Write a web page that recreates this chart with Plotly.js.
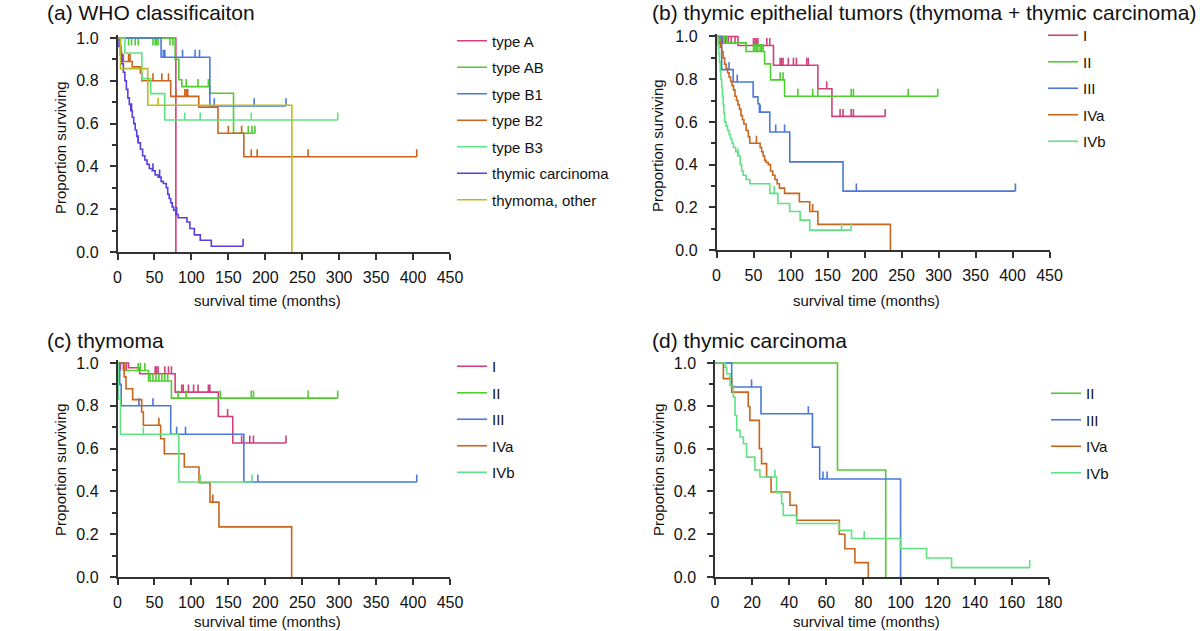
<!DOCTYPE html>
<html><head><meta charset="utf-8">
<script src="https://cdn.plot.ly/plotly-3.0.1.min.js"></script>
<style>html,body{margin:0;padding:0;background:#fff}#chart{width:1200px;height:631px}</style>
</head><body><div id="chart"></div>
<script>
// ---------- DATA ----------
// Panel (a) WHO classification: step times (t), survival after step (s), censor times (c), last follow-up (end)
const a_A_t = [0, 79];
const a_A_s = [1, 0];
const a_A_c = [];
const a_A_end = 79;

const a_AB_t = [0, 78, 83, 87, 125, 157];
const a_AB_s = [1, 0.9, 0.805, 0.773, 0.742, 0.555];
const a_AB_c = [15, 19, 24, 28, 48, 51, 53, 55, 71, 75, 93, 109, 123, 177, 182, 186];
const a_AB_end = 186;

const a_B1_t = [0, 59, 125];
const a_B1_s = [1, 0.91, 0.683];
const a_B1_c = [62, 64, 88, 105, 111, 131, 185, 228];
const a_B1_end = 228;

const a_B2_t = [0, 4, 5, 6, 20, 31, 33, 72, 110, 136, 171];
const a_B2_s = [1, 0.96, 0.93, 0.89, 0.865, 0.835, 0.8, 0.727, 0.677, 0.555, 0.445];
const a_B2_c = [8, 15, 17, 48, 60, 69, 79, 91, 93, 95, 150, 168, 181, 189, 258, 405];
const a_B2_end = 405;

const a_B3_t = [0, 10, 33, 45, 64];
const a_B3_s = [1, 0.93, 0.81, 0.74, 0.617];
const a_B3_c = [91, 112, 181, 298];
const a_B3_end = 298;

const a_TC_t = [0, 2, 4, 6, 8, 10, 12, 14, 16, 18, 20, 22, 24, 26, 28, 31, 34, 37, 40, 43, 47, 51, 55, 59, 62, 66, 68, 70, 72, 74, 76, 79, 82, 94, 98, 104, 112, 127];
const a_TC_s = [1, 0.96, 0.92, 0.88, 0.84, 0.80, 0.76, 0.72, 0.69, 0.66, 0.63, 0.60, 0.57, 0.54, 0.51, 0.48, 0.45, 0.43, 0.41, 0.39, 0.38, 0.36, 0.35, 0.33, 0.32, 0.30, 0.27, 0.25, 0.23, 0.21, 0.195, 0.175, 0.16, 0.14, 0.11, 0.08, 0.055, 0.027];
const a_TC_c = [19, 28, 48, 57, 80, 170];
const a_TC_end = 170;

const a_OT_t = [0, 4, 41, 236];
const a_OT_s = [1, 0.857, 0.686, 0];
const a_OT_c = [55];
const a_OT_end = 236;

// Panel (b) thymic epithelial tumors by stage
const b_I_t = [0, 29, 77, 137, 156];
const b_I_s = [1, 0.958, 0.865, 0.755, 0.626];
const b_I_c = [5, 8, 12, 16, 20, 25, 50, 52, 54, 56, 68, 72, 86, 88, 90, 97, 104, 108, 122, 124, 149, 167, 171, 182, 185, 228];
const b_I_end = 228;

const b_II_t = [0, 14, 40, 65, 73, 92];
const b_II_s = [1, 0.97, 0.93, 0.872, 0.797, 0.72];
const b_II_c = [6, 10, 50, 52, 54, 56, 59, 61, 63, 86, 90, 110, 130, 137, 182, 185, 259, 299];
const b_II_end = 299;

const b_III_t = [0, 7, 22.5, 49.5, 56, 58, 72, 99, 171];
const b_III_s = [1, 0.845, 0.787, 0.717, 0.685, 0.646, 0.553, 0.413, 0.276];
const b_III_c = [17, 28, 59, 80, 92, 189, 404];
const b_III_end = 404;

const b_IVa_t = [0, 3, 5, 7, 9, 11, 13, 15, 17, 19, 21, 23, 25, 27, 29, 31, 33, 35, 37, 40, 43, 45, 59, 61, 63, 65, 67, 70, 73, 76, 79, 82, 85, 92, 112, 126, 137, 235];
const b_IVa_s = [1, 0.97, 0.95, 0.93, 0.9, 0.87, 0.85, 0.83, 0.81, 0.79, 0.77, 0.75, 0.72, 0.70, 0.68, 0.66, 0.63, 0.61, 0.59, 0.56, 0.53, 0.50, 0.48, 0.46, 0.44, 0.42, 0.41, 0.40, 0.37, 0.35, 0.33, 0.31, 0.29, 0.265, 0.226, 0.18, 0.12, 0];
const b_IVa_c = [54, 130];
const b_IVa_end = 235;

const b_IVb_t = [0, 2, 3, 4, 5, 6, 7, 8, 9, 10, 11, 13, 15, 17, 19, 21, 23, 26, 29, 32, 34, 36, 40, 45, 72, 83, 99, 113, 126];
const b_IVb_s = [1, 0.96, 0.92, 0.88, 0.84, 0.80, 0.76, 0.72, 0.68, 0.64, 0.60, 0.58, 0.56, 0.54, 0.52, 0.50, 0.48, 0.46, 0.44, 0.40, 0.37, 0.35, 0.33, 0.31, 0.265, 0.218, 0.18, 0.14, 0.093];
const b_IVb_c = [29, 78, 169, 182];
const b_IVb_end = 182;

// Panel (c) thymoma by stage
const c_I_t = [0, 15, 30, 78, 136.5, 156];
const c_I_s = [1, 0.978, 0.95, 0.864, 0.75, 0.626];
const c_I_c = [4, 8, 12, 51, 53, 55, 64, 69, 73, 87, 89, 96, 103, 109, 123, 125, 149, 168, 179, 184, 228];
const c_I_end = 228;

const c_II_t = [0, 10, 42, 73];
const c_II_s = [1, 0.965, 0.916, 0.836];
const c_II_c = [28, 31, 37, 44, 48, 52, 56, 60, 64, 68, 82, 93, 139, 181, 184, 258, 298];
const c_II_end = 298;

const c_III_t = [0, 3, 5, 72, 171];
const c_III_s = [1, 0.9, 0.8, 0.667, 0.444];
const c_III_c = [29, 48, 80, 92, 190, 405];
const c_III_end = 405;

const c_IVa_t = [0, 9, 11.5, 20.5, 32.7, 35, 58.4, 63.4, 90.4, 110.3, 125.2, 137.3, 235.7];
const c_IVa_s = [1, 0.935, 0.88, 0.829, 0.771, 0.709, 0.646, 0.576, 0.514, 0.441, 0.35, 0.234, 0];
const c_IVa_c = [56, 129];
const c_IVa_end = 235.7;

const c_IVb_t = [0, 1, 4, 83];
const c_IVb_s = [1, 0.833, 0.667, 0.444];
const c_IVb_c = [35, 112, 182];
const c_IVb_end = 182;

// Panel (d) thymic carcinoma by stage
const d_II_t = [0, 66, 92];
const d_II_s = [1, 0.5, 0];
const d_II_c = [];
const d_II_end = 92;

const d_III_t = [0, 9, 24.8, 52.5, 56.4, 100];
const d_III_s = [1, 0.888, 0.763, 0.607, 0.458, 0];
const d_III_c = [19.7, 50.3, 58.2, 60.4];
const d_III_end = 100;

const d_IVa_t = [0, 4.5, 9, 17.9, 18.8, 23.9, 25.1, 27.8, 30.2, 40.4, 44, 67, 70, 75.4, 82.6];
const d_IVa_s = [1, 0.927, 0.864, 0.797, 0.732, 0.6, 0.53, 0.467, 0.397, 0.335, 0.265, 0.2, 0.132, 0.067, 0];
const d_IVa_c = [];
const d_IVa_end = 82.6;

const d_IVb_t = [0, 5.4, 6.3, 8.1, 9.9, 10.8, 11.7, 13.5, 15.3, 17, 21.5, 24.2, 33.2, 35.9, 36.8, 44, 67, 73.6, 100, 114, 127.5];
const d_IVb_s = [1, 0.98, 0.95, 0.895, 0.84, 0.755, 0.685, 0.654, 0.623, 0.56, 0.5, 0.467, 0.394, 0.343, 0.288, 0.25, 0.218, 0.18, 0.133, 0.089, 0.044];
const d_IVb_c = [32.3, 80.4, 169.6];
const d_IVb_end = 169.6;

// Labels
const panelTitles = ['(a) WHO classificaiton', '(b) thymic epithelial tumors (thymoma + thymic carcinoma)', '(c) thymoma', '(d) thymic carcinoma'];
const xTitle = 'survival time (months)';
const yTitle = 'Proportion surviving';
const namesA = ['type A', 'type AB', 'type B1', 'type B2', 'type B3', 'thymic carcinoma', 'thymoma, other'];
const namesStage = ['I', 'II', 'III', 'IVa', 'IVb'];
const namesD = ['II', 'III', 'IVa', 'IVb'];

// ---------- STYLE ----------
const FONT = 'Liberation Sans, Arial, Helvetica, sans-serif';
const C = {A:'#d0407c', AB:'#4fcc2e', B1:'#4a78dc', B2:'#c8651e', B3:'#5fe383', TC:'#5a3ce0', OT:'#bcbc1e'};
const W = 1200, H = 631;
const px = v => v / W;
const py = v => 1 - v / H;

const traces = [];
function addKM(t, s, c, end, name, color, ax, legendId, group) {
  const x = t.slice(), y = s.slice();
  if (end > t[t.length - 1]) { x.push(end); y.push(s[s.length - 1]); }
  traces.push({type:'scatter', mode:'lines', x:x, y:y, name:name,
    line:{shape:'hv', color:color, width:1.6}, xaxis:'x'+ax, yaxis:'y'+ax,
    legend:legendId, legendgroup:group, hoverinfo:'x+y+name'});
  const cx = [], cy = [];
  c.forEach(ct => {
    let sv = s[0];
    for (let i = 0; i < t.length; i++) if (t[i] <= ct) sv = s[i];
    const top = sv >= 0.995 ? sv - 0.035 : sv + 0.035;
    cx.push(ct, ct, null); cy.push(sv, top, null);
  });
  if (cx.length) traces.push({type:'scatter', mode:'lines', x:cx, y:cy, showlegend:false,
    line:{color:color, width:1.6}, xaxis:'x'+ax, yaxis:'y'+ax, legend:legendId, legendgroup:group, hoverinfo:'skip'});
}

// Panel a
addKM(a_A_t, a_A_s, a_A_c, a_A_end, namesA[0], C.A, '', 'legend', 'a0');
addKM(a_AB_t, a_AB_s, a_AB_c, a_AB_end, namesA[1], C.AB, '', 'legend', 'a1');
addKM(a_B1_t, a_B1_s, a_B1_c, a_B1_end, namesA[2], C.B1, '', 'legend', 'a2');
addKM(a_B2_t, a_B2_s, a_B2_c, a_B2_end, namesA[3], C.B2, '', 'legend', 'a3');
addKM(a_B3_t, a_B3_s, a_B3_c, a_B3_end, namesA[4], C.B3, '', 'legend', 'a4');
addKM(a_TC_t, a_TC_s, a_TC_c, a_TC_end, namesA[5], C.TC, '', 'legend', 'a5');
addKM(a_OT_t, a_OT_s, a_OT_c, a_OT_end, namesA[6], C.OT, '', 'legend', 'a6');
// Panel b
addKM(b_I_t, b_I_s, b_I_c, b_I_end, namesStage[0], C.A, '2', 'legend2', 'b0');
addKM(b_II_t, b_II_s, b_II_c, b_II_end, namesStage[1], C.AB, '2', 'legend2', 'b1');
addKM(b_III_t, b_III_s, b_III_c, b_III_end, namesStage[2], C.B1, '2', 'legend2', 'b2');
addKM(b_IVa_t, b_IVa_s, b_IVa_c, b_IVa_end, namesStage[3], C.B2, '2', 'legend2', 'b3');
addKM(b_IVb_t, b_IVb_s, b_IVb_c, b_IVb_end, namesStage[4], C.B3, '2', 'legend2', 'b4');
// Panel c
addKM(c_I_t, c_I_s, c_I_c, c_I_end, namesStage[0], C.A, '3', 'legend3', 'c0');
addKM(c_II_t, c_II_s, c_II_c, c_II_end, namesStage[1], C.AB, '3', 'legend3', 'c1');
addKM(c_III_t, c_III_s, c_III_c, c_III_end, namesStage[2], C.B1, '3', 'legend3', 'c2');
addKM(c_IVa_t, c_IVa_s, c_IVa_c, c_IVa_end, namesStage[3], C.B2, '3', 'legend3', 'c3');
addKM(c_IVb_t, c_IVb_s, c_IVb_c, c_IVb_end, namesStage[4], C.B3, '3', 'legend3', 'c4');
// Panel d
addKM(d_II_t, d_II_s, d_II_c, d_II_end, namesD[0], C.AB, '4', 'legend4', 'd0');
addKM(d_III_t, d_III_s, d_III_c, d_III_end, namesD[1], C.B1, '4', 'legend4', 'd1');
addKM(d_IVa_t, d_IVa_s, d_IVa_c, d_IVa_end, namesD[2], C.B2, '4', 'legend4', 'd2');
addKM(d_IVb_t, d_IVb_s, d_IVb_c, d_IVb_end, namesD[3], C.B3, '4', 'legend4', 'd3');

// ---------- LAYOUT ----------
const axBase = {showgrid:false, zeroline:false, showline:true, linecolor:'#333', linewidth:1.5,
  ticks:'outside', ticklen:6, tickwidth:1.5, tickcolor:'#333',
  tickfont:{family:FONT, size:16, color:'#111'}, fixedrange:true};
function xAx(domL, domR, max, dt, anchor) {
  return Object.assign({}, axBase, {domain:[px(domL), px(domR)], range:[0, max], tick0:0, dtick:dt,
    anchor:anchor, ticklabelstandoff:4});
}
function yAx(top, bottom, anchor) {
  // 1.0 at pixel 'top', 0 at 'bottom'; small headroom above 1.0
  const span = bottom - top, extra = 0.012 * span;
  return Object.assign({}, axBase, {domain:[py(bottom), py(top - extra)], range:[0, 1.012], tick0:0, dtick:0.2,
    tickformat:'.1f', anchor:anchor, ticklabelstandoff:8,
    minor:{dtick:0.1, tick0:0, ticks:'outside', ticklen:4, tickwidth:1.5, tickcolor:'#333'}});
}
const legBase = {font:{family:FONT, size:15, color:'#111'}, bgcolor:'rgba(0,0,0,0)', borderwidth:0,
  tracegroupgap:4, xanchor:'left', yanchor:'top', itemclick:'toggle'};
const annots = [];
function txt(x, y, text, size, opts) {
  annots.push(Object.assign({xref:'paper', yref:'paper', x:px(x), y:py(y), text:text, showarrow:false,
    font:{family:FONT, size:size, color:'#111'}, xanchor:'center', yanchor:'middle'}, opts || {}));
}
txt(45, 13, panelTitles[0], 21, {xanchor:'left'});
txt(650, 13, panelTitles[1], 21, {xanchor:'left'});
txt(45, 340, panelTitles[2], 21, {xanchor:'left'});
txt(650, 340, panelTitles[3], 21, {xanchor:'left'});
txt(267.5, 300, xTitle, 15);
txt(866, 300, xTitle, 15);
txt(267.5, 621, xTitle, 15);
txt(866, 621, xTitle, 15);
txt(60, 148, yTitle, 15, {textangle:-90});
txt(658, 146, yTitle, 15, {textangle:-90});
txt(60, 470, yTitle, 15, {textangle:-90});
txt(658, 470, yTitle, 15, {textangle:-90});

const layout = {
  width:W, height:H, margin:{l:0, r:0, t:0, b:0}, paper_bgcolor:'#fff', plot_bgcolor:'#fff',
  font:{family:FONT, color:'#111'},
  xaxis:xAx(117.5, 450, 450, 50, 'y'),
  yaxis:yAx(38, 252, 'x'),
  xaxis2:xAx(716.5, 1049.5, 450, 50, 'y2'),
  yaxis2:yAx(36.5, 250, 'x2'),
  xaxis3:xAx(117.5, 450, 450, 50, 'y3'),
  yaxis3:yAx(363, 577, 'x3'),
  xaxis4:xAx(715, 1049, 180, 20, 'y4'),
  yaxis4:yAx(363, 577, 'x4'),
  legend:Object.assign({}, legBase, {x:px(452), y:py(24.5)}),
  legend2:Object.assign({}, legBase, {x:px(1043), y:py(19)}),
  legend3:Object.assign({}, legBase, {x:px(452), y:py(350)}),
  legend4:Object.assign({}, legBase, {x:px(1046), y:py(377)}),
  annotations:annots,
  showlegend:true
};
Plotly.newPlot('chart', traces, layout, {displayModeBar:false, staticPlot:false});
</script></body></html>
